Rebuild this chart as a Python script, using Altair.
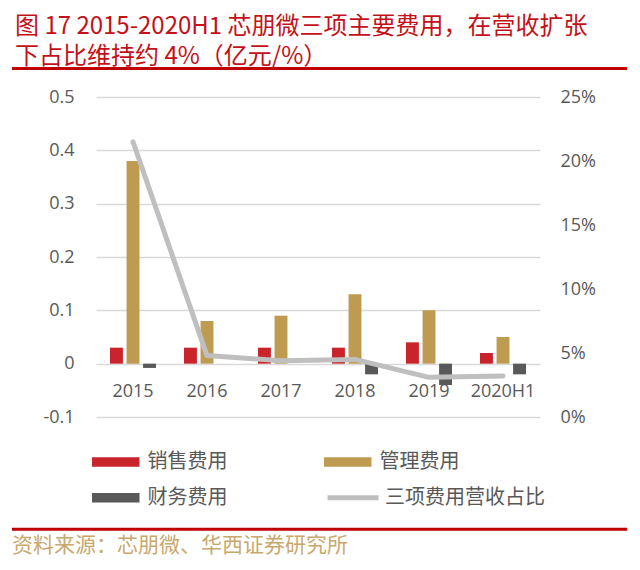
import altair as alt
import pandas as pd

years = ["2015", "2016", "2017", "2018", "2019", "2020H1"]
series = ["销售费用", "管理费用", "财务费用"]
sales = [0.03, 0.03, 0.03, 0.03, 0.04, 0.02]
admin = [0.38, 0.08, 0.09, 0.13, 0.10, 0.05]
finance = [-0.008, 0.0, 0.0, -0.02, -0.04, -0.02]
ratio_name = "三项费用营收占比"
ratio = [0.215, 0.048, 0.044, 0.045, 0.031, 0.032]
left_ticks = [-0.1, 0, 0.1, 0.2, 0.3, 0.4, 0.5]
right_ticks = [0, 0.05, 0.10, 0.15, 0.20, 0.25]
title_line1 = "图 17 2015-2020H1 芯朋微三项主要费用，在营收扩张"
title_line2 = "下占比维持约 4%（亿元/%）"
source_text = "资料来源：芯朋微、华西证券研究所"

colors = ["#C9232B", "#BF9B52", "#595959"]
line_color = "#BFBFBF"
title_color = "#C41018"
axis_font = "Open Sans"
cjk_font = "Noto Sans CJK SC"
label_color = "#595959"

rows = []
for i, yr in enumerate(years):
    for s, vals in zip(series, [sales, admin, finance]):
        rows.append({"年份": yr, "项目": s, "金额": vals[i]})
bars_df = pd.DataFrame(rows)
line_df = pd.DataFrame({"年份": years, "项目": [ratio_name] * len(years), "占比": ratio})
deco_df = pd.DataFrame({"k": [0]})

x_enc = alt.X(
    "年份:N", sort=years,
    scale=alt.Scale(paddingInner=0.378, paddingOuter=0.189),
    axis=alt.Axis(title=None, orient="bottom", offset=-53.3, domain=False, ticks=False,
                  labelAngle=0, labelPadding=19, labelFontSize=18, labelColor=label_color,
                  labelFont=axis_font),
)

bar_path = "M-1,-0.2L1,-0.2L1,0.2L-1,0.2Z"

bars = alt.Chart(bars_df).mark_bar().encode(
    x=x_enc,
    xOffset=alt.XOffset("项目:N", sort=series, scale=alt.Scale(domain=series, paddingInner=0.22, paddingOuter=0)),
    y=alt.Y(
        "金额:Q",
        scale=alt.Scale(domain=[-0.1, 0.5], nice=False, zero=False),
        axis=alt.Axis(
            title=None, orient="left", values=left_ticks,
            labelExpr="datum.value == 0 ? '0' : (datum.value < 0 ? '-' + format(-datum.value, '.1f') : format(datum.value, '.1f'))",
            grid=True, gridColor="#D9D9D9", gridWidth=1.3, domain=False, ticks=False,
            labelPadding=22, labelFontSize=18, labelColor=label_color, labelFont=axis_font,
        ),
    ),
    color=alt.Color(
        "项目:N", sort=series,
        scale=alt.Scale(domain=series, range=colors),
        legend=alt.Legend(
            title=None, orient="none", legendX=-4.3, legendY=355, columns=2,
            direction="horizontal",
            columnPadding=96, rowPadding=15.7, clipHeight=20, padding=0,
            symbolType=bar_path, symbolSize=2266, symbolStrokeWidth=0, symbolOpacity=1,
            labelOffset=7.7, labelFont=cjk_font, labelFontSize=20, labelColor=label_color,
        ),
    ),
)

line = alt.Chart(line_df).mark_line(strokeWidth=5, strokeCap="round", strokeJoin="round").encode(
    x=x_enc,
    y=alt.Y(
        "占比:Q",
        scale=alt.Scale(domain=[0, 0.25], nice=False),
        axis=alt.Axis(
            title=None, orient="right", values=right_ticks, format=".0%", grid=False,
            domain=False, ticks=False, labelPadding=20, labelFontSize=18,
            labelColor=label_color, labelFont=axis_font,
        ),
    ),
    color=alt.Color(
        "项目:N",
        scale=alt.Scale(domain=[ratio_name], range=[line_color]),
        legend=alt.Legend(
            title=None, orient="none", legendX=229, legendY=390.7, clipHeight=20, padding=0,
            symbolType="stroke", symbolSize=2601, symbolStrokeWidth=5,
            labelOffset=4, labelFont=cjk_font, labelFontSize=20, labelColor=label_color,
        ),
    ),
)

top_rule = alt.Chart(deco_df).mark_rule(color="#C00000", strokeWidth=3).encode(
    x=alt.value(-84), x2=alt.value(531), y=alt.value(-28.5)
)
bottom_rule = alt.Chart(deco_df).mark_rule(color="#C00000", strokeWidth=3).encode(
    x=alt.value(-84), x2=alt.value(531), y=alt.value(432.3)
)
source = alt.Chart(deco_df).mark_text(
    align="left", baseline="middle", font=cjk_font, fontSize=21, color="#C9A86C"
).encode(x=alt.value(-84), y=alt.value(449), text=alt.value(source_text))

chart = alt.layer(bars, line, top_rule, bottom_rule, source).resolve_scale(
    y="independent", color="independent"
).properties(
    width=444, height=320,
    title=alt.TitleParams(
        text=title_line1, subtitle=title_line2, anchor="start", frame="group",
        offset=-2, dx=-81,
        font=cjk_font, fontSize=24, fontWeight="normal", color=title_color,
        subtitleFont=cjk_font, subtitleFontSize=24, subtitleFontWeight="normal",
        subtitleColor=title_color, subtitlePadding=6,
    ),
    autosize=alt.AutoSizeParams(type="none"),
    padding={"left": 88, "top": 89, "right": 92, "bottom": 145},
).configure_view(strokeWidth=0)

chart.save("out.html", embed_options={"renderer": "svg", "actions": False})
